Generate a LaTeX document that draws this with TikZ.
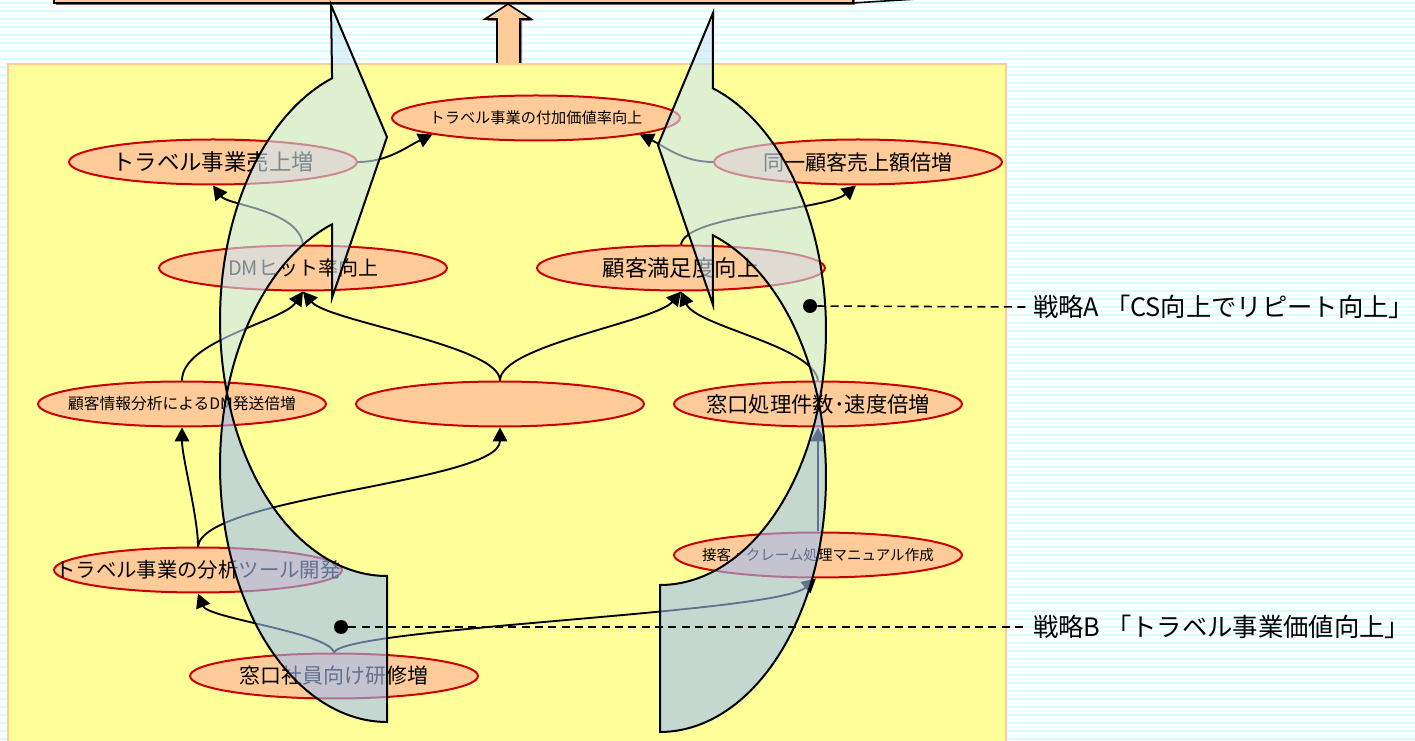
\documentclass[tikz,border=0pt]{standalone}
\usepackage{fontspec}
\setmainfont{Noto Sans CJK JP}
\usetikzlibrary{shapes.geometric,arrows.meta,calc}
\definecolor{peach}{RGB}{255,204,153}
\definecolor{ellred}{RGB}{204,0,0}
\definecolor{panelfill}{RGB}{255,255,153}
\definecolor{stripe}{RGB}{210,255,255}
\definecolor{frontcol}{RGB}{203,230,245}
\definecolor{backcol}{RGB}{158,190,243}
\newcommand\fsz[1]{\fontsize{#1}{#1}\selectfont}
\begin{document}
\begin{tikzpicture}[x=0.75pt,y=-0.75pt,
 ell/.style={ellipse, draw=ellred, fill=peach, line width=1.5pt, minimum width=216pt, minimum height=33.75pt, inner sep=0pt},
 txt/.style={inner sep=0pt, text=black},
 conn/.style={line width=1.4pt, -{Triangle[length=10.5pt,width=11pt]}},
 bigedge/.style={draw=black, line width=1.5pt, fill opacity=0.6},
 bigdot/.style={circle, fill=black, minimum size=10.5pt, inner sep=0pt},
 lead/.style={line width=1.2pt, dash pattern=on 6pt off 4pt}]
\useasboundingbox (0,0) rectangle (1415,741);
% background
\fill[white] (0,0) rectangle (1415,741);
\foreach \y in {2,10,...,741} \fill[stripe] (0,\y) rectangle (1415,\y+2);
% top box
\fill[black!60] (56,-10) rectangle (855,5);
\filldraw[fill=peach, draw=black, line width=1.2pt] (54,-10) rectangle (853,3);
\draw[line width=1.2pt] (853,3) -- (917,-1);
% up block arrow
\fill[black!50] (499,66) -- (499,21) -- (487,21) -- (510,6) -- (533,21) -- (522,21) -- (522,66) -- cycle;
\filldraw[fill=peach, draw=black, line width=1.2pt] (497,64) -- (497,19) -- (485,19) -- (508,4) -- (531,19) -- (520,19) -- (520,64) -- cycle;
% panel
\filldraw[fill=panelfill, draw=peach, line width=1.5pt] (8,64) rectangle (1006,760);
% ellipses
\node[ell] (va) at (536,118) {};
\node[ell] (sales) at (213,162) {};
\node[ell] (same) at (858,162) {};
\node[ell] (dm) at (303,268) {};
\node[ell] (cs) at (681,268) {};
\node[ell] (dmsend) at (182,404) {};
\node[ell] (blank) at (500,404) {};
\node[ell] (proc) at (818,404) {};
\node[ell] (tool) at (198,570) {};
\node[ell] (manual) at (818,555) {};
\node[ell] (train) at (334,676) {};
% texts
\node[txt,font=\fsz{11.4pt}] (tva) at (va) {トラベル事業の付加価値率向上};
\node[txt,font=\fsz{16.8pt}] (tsales) at (sales) {トラベル事業売上増};
\node[txt,font=\fsz{15.8pt}] (tsame) at (same) {同一顧客売上額倍増};
\node[txt,font=\fsz{15pt}] (tdm) at (dm) {DMヒット率向上};
\node[txt,font=\fsz{16.8pt}] (tcs) at (cs) {顧客満足度向上};
\node[txt,font=\fsz{11.8pt}] (tdmsend) at (dmsend) {顧客情報分析によるDM発送倍増};
\node[txt,font=\fsz{16pt}] (tproc) at (proc) {窓口処理件数･速度倍増};
\node[txt,font=\fsz{15.3pt}] (ttool) at (tool) {トラベル事業の分析ツール開発};
\node[txt,font=\fsz{10.9pt}] (tmanual) at (manual) {接客・クレーム処理マニュアル作成};
\node[txt,font=\fsz{15.7pt}] (ttrain) at (train) {窓口社員向け研修増};
% connectors
\draw[conn] (sales.east) .. controls +(30,0) and +(-25,12) .. (va.189);
\draw[conn] (same.west) .. controls +(-30,0) and +(25,12) .. (va.351);
\draw[conn] (dm.north) .. controls +(-5,-35) and +(15,20) .. (sales.south);
\draw[conn] (cs.north) .. controls +(5,-30) and +(-30,25) .. (same.265);
\draw[conn] (dmsend.north) .. controls +(0,-40) and +(-20,30) .. (dm.south);
\draw[conn] (blank.north) .. controls +(0,-35) and +(25,30) .. (dm.south);
\draw[conn] (blank.north) .. controls +(0,-35) and +(-25,30) .. (cs.south);
\draw[conn] (proc.north) .. controls +(-5,-35) and +(15,35) .. (cs.south);
\draw[conn] (tool.north) .. controls +(0,-30) and +(0,30) .. (dmsend.south);
\draw[conn] (tool.north) .. controls +(5,-50) and +(0,55) .. (blank.south);
\draw[conn] (train.north) .. controls +(-5,-20) and +(10,25) .. (tool.south);
\draw[conn] (train.north) .. controls +(10,-25) and +(-40,35) .. (manual.265);
\draw[conn] (manual.north) -- (proc.south);
% left big curved arrow
\filldraw[bigedge, fill=backcol] plot[domain=196.6:90, samples=60] ({387+167*cos(\x)},{466+256*sin(\x)})
  -- plot[domain=90:163.4, samples=60] ({387+167*cos(\x)},{320+256*sin(\x)}) -- cycle;
\filldraw[bigedge, fill=frontcol] plot[domain=163.4:250.8, samples=60] ({387+167*cos(\x)},{320+256*sin(\x)})
  -- (331,5) -- (387,137) -- (332,298)
  -- plot[domain=250.8:196.6, samples=60] ({387+167*cos(\x)},{466+256*sin(\x)}) -- cycle;
% right big curved arrow
\filldraw[bigedge, fill=backcol] plot[domain=-16.75:90, samples=60] ({660+166*cos(\x)},{477+255*sin(\x)})
  -- plot[domain=90:16.75, samples=60] ({660+166*cos(\x)},{330+255*sin(\x)}) -- cycle;
\filldraw[bigedge, fill=frontcol] plot[domain=16.75:-71.4, samples=60] ({660+166*cos(\x)},{330+255*sin(\x)})
  -- (713,13) -- (658,145) -- (713,305)
  -- plot[domain=-71.4:-16.75, samples=60] ({660+166*cos(\x)},{477+255*sin(\x)}) -- cycle;
% strategy markers
\node[bigdot] (dA) at (810,306) {};
\node[bigdot] (dB) at (341,627) {};
\node[txt,anchor=west,font=\fsz{19pt}] (labA) at (1033,307) {戦略A 「CS向上でリピート向上」};
\node[txt,anchor=west,font=\fsz{19pt}] (labB) at (1033,627) {戦略B 「トラベル事業価値向上」};
\draw[lead] (dA) -- ([xshift=-4pt]labA.west);
\draw[lead] (dB) -- ([xshift=-4pt]labB.west);
\end{tikzpicture}
\end{document}
